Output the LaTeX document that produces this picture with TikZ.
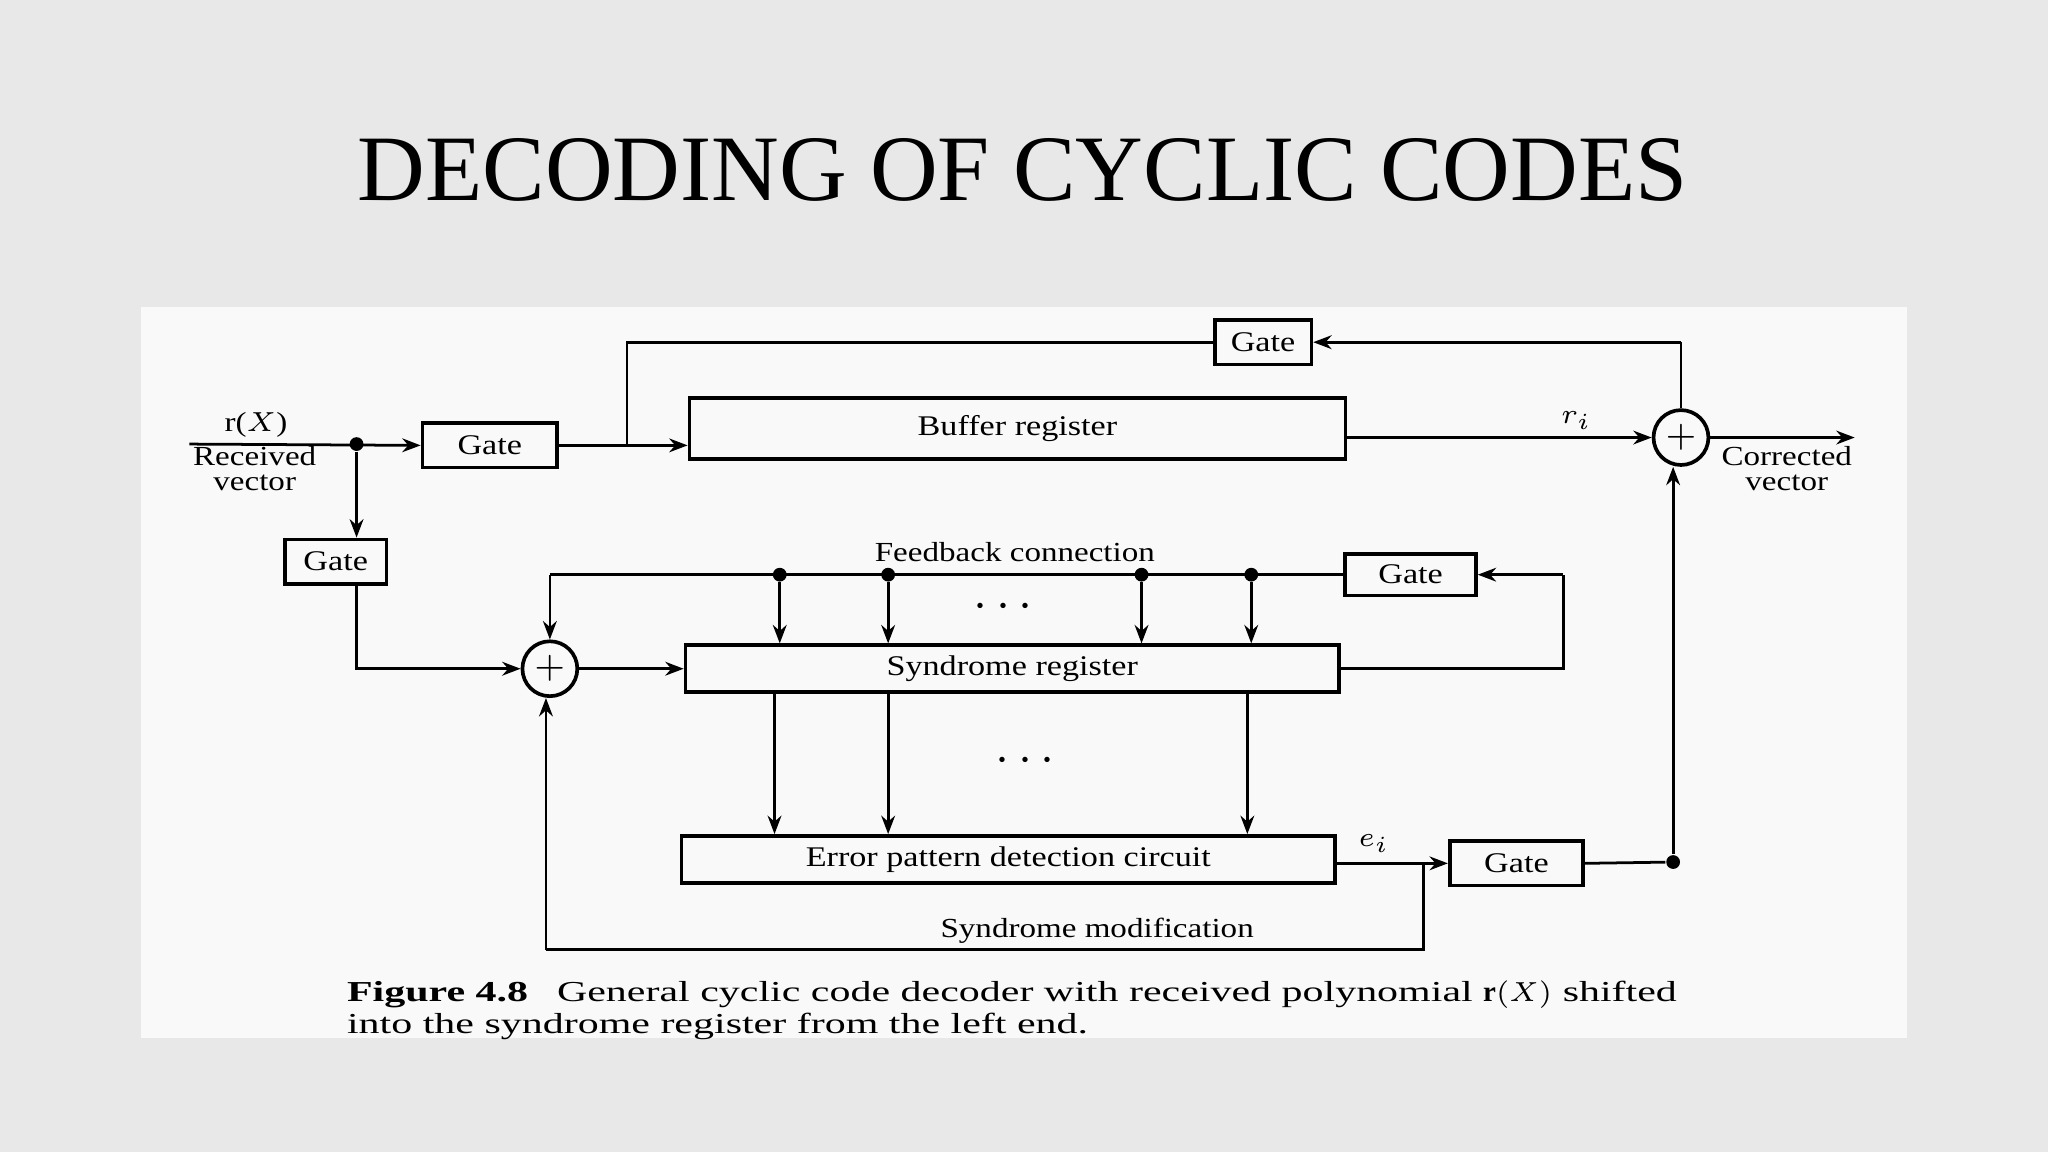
\documentclass[tikz,border=0pt]{standalone}
\usepackage{fontspec}
\setmainfont{Liberation Serif}
\newfontfamily\widefont[FakeStretch=1.2]{Liberation Serif}
\newfontfamily\capfont[FakeStretch=1.45]{Liberation Serif}
\usetikzlibrary{arrows.meta}
\tikzset{
  blk/.style={draw, thick, minimum height=0.34cm, inner sep=0pt, font=\widefont\fontsize{6.2}{7}\selectfont},
  sum/.style={draw, thick, circle, minimum size=0.42cm, inner sep=0pt, font=\fontsize{8}{8}\selectfont},
  lbl/.style={font=\widefont\fontsize{6}{5.5}\selectfont, align=center, inner sep=1pt},
  arr/.style={-{Stealth[length=4pt,width=3pt]}, semithick},
  ln/.style={semithick},
  dot/.style={circle, fill, inner sep=0pt, minimum size=3pt}
}
\begin{document}
\begin{tikzpicture}[x=0.01cm,y=-0.01cm]

\fill [gray!18] (0,0) rectangle (1568,882);
\useasboundingbox (0,0) rectangle (1568,882);
\fill [gray!5] (108,235) rectangle (1460,795); % scan

\node [font=\fontsize{20.4}{20.4}\selectfont] (title) at (783,130) {DECODING OF CYCLIC CODES};

% blocks
\node [blk, minimum width=0.74cm] (gtop) at (967,262) {Gate};
\node [blk, minimum width=5.02cm, minimum height=0.47cm] (buf) at (779,328) {Buffer register};
\node [blk, minimum width=1.03cm] (g1) at (375,341) {Gate};
\node [blk, minimum width=0.78cm] (g2) at (257,430) {Gate};
\node [blk, minimum width=1.0cm, minimum height=0.32cm] (g3) at (1080,440) {Gate};
\node [blk, minimum width=5.0cm, minimum height=0.36cm] (syn) at (775,512) {Syndrome register};
\node [blk, minimum width=5.0cm, minimum height=0.36cm] (err) at (772,658) {Error pattern detection circuit};
\node [blk, minimum width=1.02cm] (g4) at (1161,661) {Gate};
\node [sum] (s1) at (1287,335) {$+$};
\node [sum] (s2) at (421,512) {$+$};

% labels
\node [lbl] (rx) at (196,325) {r($X$)};
\node [lbl] (rv) at (195,359) {Received\\vector};
\node [lbl] (cv) at (1368,359) {Corrected\\vector};
\node [lbl] (ri) at (1207,322) {$r_i$};
\node [lbl] (ei) at (1052,646) {$e_i$};
\node [lbl] (fb) at (777,423) {Feedback connection};
\node [lbl] (sm) at (840,713) {Syndrome modification};
\node [font=\fontsize{11}{11}\selectfont\bfseries] (d1) at (768,465) {$\cdots$};
\node [font=\fontsize{11}{11}\selectfont\bfseries] (d2) at (785,583) {$\cdots$};

% coordinates
\coordinate (in) at (145,340);
\node [dot] (j1) at (273,340) {};
\coordinate (b1) at (480,262);
\coordinate (b2) at (480,340);
\coordinate (t1) at (1287,262);
\coordinate (out) at (1420,335);
\node [dot] (j4) at (1281,660) {};
\coordinate (f0) at (421,440);
\node [dot] (f1) at (597,440) {};
\node [dot] (f2) at (680,440) {};
\node [dot] (f3) at (874,440) {};
\node [dot] (f4) at (958,440) {};
\coordinate (r3) at (1197,440);
\coordinate (m0) at (1090,660);
\coordinate (m1) at (1090,727);
\coordinate (m2) at (418,727);

% connectors
\draw [arr] (in) -- (g1.west);
\draw [arr] (g1.east) -- (buf.west |- g1.east);
\draw [ln] (gtop.west) -- (b1) -- (b2);
\draw [arr] (buf.east |- s1) -- (s1.west);
\draw [arr] (s1.east) -- (out);
\draw [ln] (s1.north) -- (t1);
\draw [arr] (t1) -- (gtop.east);
\draw [arr] (j1) -- (g2.north -| j1);
\draw [arr] (g2.south -| j1) |- (s2.west);
\draw [arr] (s2.east) -- (syn.west);
\draw [ln] (f0) -- (g3.west);
\draw [arr] (f0) -- (s2.north);
\foreach \f in {f1,f2,f3,f4}
  \draw [arr] (\f) -- (syn.north -| \f);
\draw [ln] (syn.east) -| (r3);
\draw [arr] (r3) -- (g3.east);
\foreach \x in {593,680,955}
  \draw [arr] (syn.south -| \x,0) -- (err.north -| \x,0);
\draw [arr] (err.east |- g4.west) -- (g4.west);
\draw [ln] (g4.east) -- (j4);
\draw [arr] (j4) -- (j4 |- s1.south);
\draw [ln] (m0) -- (m1) -- (m2);
\draw [arr] (m2) -- (s2.south -| m2);

% caption
\node [anchor=north west, inner sep=0pt, align=left, font=\capfont\fontsize{6.3}{5.2}\selectfont] (cap) at (265,750)
  {\textbf{Figure 4.8}\quad General cyclic code decoder with received polynomial $\mathbf{r}(X)$ shifted\\
   into the syndrome register from the left end.};

\end{tikzpicture}
\end{document}
